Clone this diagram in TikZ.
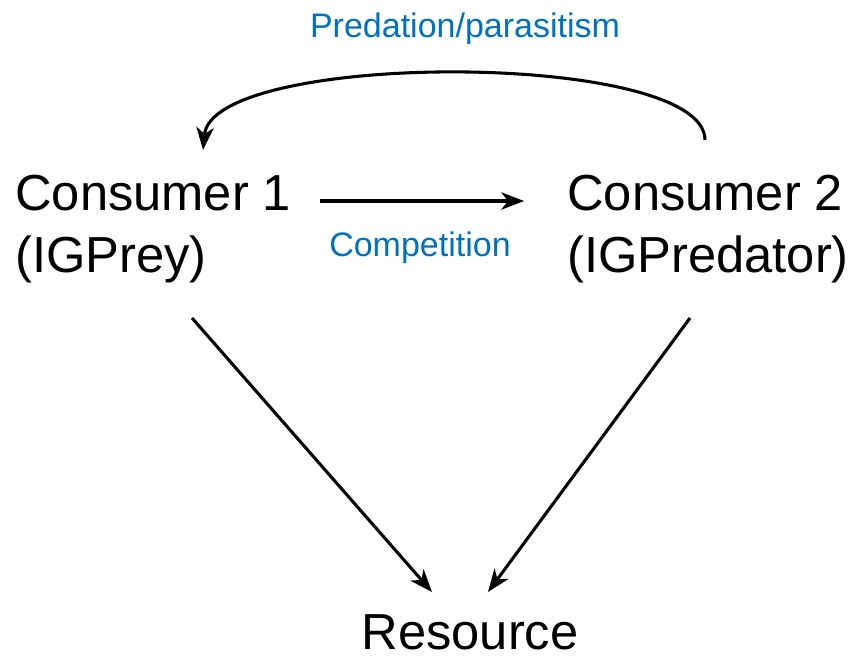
\documentclass[tikz,border=0pt]{standalone}
\usepackage{fontspec}
\setmainfont{Liberation Sans}
\usetikzlibrary{arrows.meta}
\definecolor{lblblue}{RGB}{0,112,192}
\tikzset{
  big/.style={font=\fontsize{38}{44}\selectfont, inner sep=0pt, anchor=base west},
  lbl/.style={font=\fontsize{25.5}{30}\selectfont, text=lblblue, inner sep=0pt, anchor=base},
  conn/.style={line width=2.3pt, -{Stealth[length=17pt,width=13pt,inset=5pt]}}
}
\begin{document}
\begin{tikzpicture}[x=0.75pt,y=-0.75pt]
\useasboundingbox (0,0) rectangle (855,659);
\node[big] (c1) at (15,210) {Consumer 1};
\node[big] (c1b) at (15,272) {(IGPrey)};
\node[big] (c2) at (567,210) {Consumer 2};
\node[big] (c2b) at (567,272) {(IGPredator)};
\node[big, anchor=base] (res) at (470,649) {Resource};
\node[lbl] (pred) at (465,38) {Predation/parasitism};
\node[lbl] (comp) at (420,256) {Competition};
\coordinate (cs) at (320,201);
\coordinate (ce) at (524,201);
\draw[conn] (cs) -- (ce);
\coordinate (l1) at (192,318);
\coordinate (l2) at (432,592);
\draw[conn] (l1) -- (l2);
\coordinate (r1) at (690,318);
\coordinate (r2) at (488,592);
\draw[conn] (r1) -- (r2);
\coordinate (ps) at (705,140);
\coordinate (pe) at (203,150);
\draw[conn] (ps) .. controls (705,50) and (212,50) .. (pe);
\end{tikzpicture}
\end{document}
